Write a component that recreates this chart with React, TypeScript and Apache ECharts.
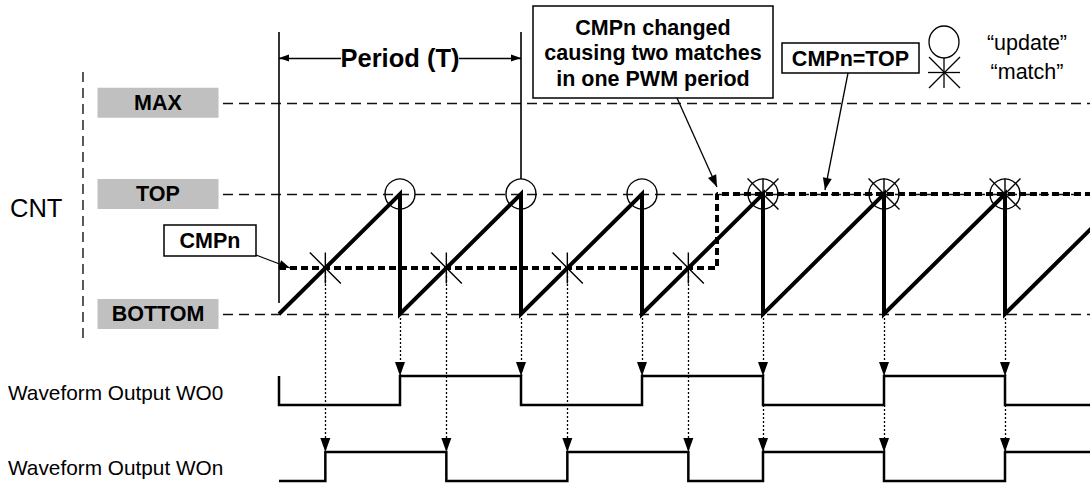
import React, { useEffect, useRef } from "react";
import * as echarts from "echarts";

// ---------------- data ----------------
const levelNames = ["MAX", "TOP", "BOTTOM"];
const levelValues = [1.76, 1, 0];
// counter (CNT) sawtooth, time in PWM periods, value relative to TOP
const cntTime = [0, 1, 1, 2, 2, 3, 3, 4, 4, 5, 5, 6, 6, 7];
const cntValue = [0, 1, 0, 1, 0, 1, 0, 1, 0, 1, 0, 1, 0, 1];
// compare register CMPn
const cmpTime = [0, 3.62, 3.62, 7];
const cmpValue = [0.383, 0.383, 1, 1];
// events
const updateTime = [1, 2, 3, 4, 5, 6];
const matchTime = [0.383, 1.383, 2.383, 3.383, 4, 5, 6];
const matchValue = [0.383, 0.383, 0.383, 0.383, 1, 1, 1];
// waveform outputs (logical 0/1)
const wo0Time = [0, 0, 1, 1, 2, 2, 3, 3, 4, 4, 5, 5, 6, 6, 7];
const wo0State = [1, 0, 0, 1, 1, 0, 0, 1, 1, 0, 0, 1, 1, 0, 0];
const wonTime = [0, 0.383, 0.383, 1.383, 1.383, 2.383, 2.383, 3.383, 3.383, 4, 4, 5, 5, 6, 6, 7];
const wonState = [0, 0, 1, 1, 0, 0, 1, 1, 0, 0, 1, 1, 0, 0, 1, 1];
const rowNames = ["Waveform Output WO0", "Waveform Output WOn"];
const axisTitle = "CNT";
const periodLabel = "Period (T)";
const noteChanged = "CMPn changed\ncausing two matches\nin one PWM period";
const noteTop = "CMPn=TOP";
const noteCmp = "CMPn";
const legendNames = ["\u201Cupdate\u201D", "\u201Cmatch\u201D"];

// ---------------- layout ----------------
const W = 1090;
const H = 485;
const X0 = 279;
const PX_T = 121;
const Y0 = 314;
const PX_V = 120;
const xMin = -X0 / PX_T;
const xMax = (W - X0) / PX_T;
const yMin = (Y0 - H) / PX_V;
const yMax = Y0 / PX_V;
const tx = (px: number) => (px - X0) / PX_T;
const vy = (py: number) => (Y0 - py) / PX_V;
const rowLow = [vy(405), vy(481)];
const rowAmp = 29 / PX_V;

const FONT = "'Liberation Sans', Arial, Helvetica, sans-serif";
const BLACK = "#000";

type Seg = { from: number[]; to: number[]; style: any; head?: number[] };

function headItem(s: Seg) {
  const dx = (s.to[0] - s.from[0]) * PX_T;
  const dy = -(s.to[1] - s.from[1]) * PX_V;
  const len = Math.hypot(dx, dy) || 1;
  const ux = dx / len;
  const uy = dy / len;
  const h = s.head![1];
  return {
    value: s.to,
    symbolSize: s.head,
    symbolRotate: (Math.atan2(-uy, ux) * 180) / Math.PI - 90,
    symbolOffset: [-ux * h / 2, -uy * h / 2],
  };
}

function buildOption() {
  const dotted = { color: BLACK, width: 1.3, type: [2, 2], opacity: 1 };
  const thin = { color: BLACK, width: 1.3, type: "solid", opacity: 1 };
  const dashed = { color: "#111", width: 1.3, type: [10, 6], opacity: 1 };
  const wo0High = rowLow[0] + rowAmp;
  const wo0Low = rowLow[0];
  const wonHigh = rowLow[1] + rowAmp;

  const segs: Seg[] = [];
  levelValues.forEach((v) => segs.push({ from: [tx(223), v], to: [xMax, v], style: dashed }));
  updateTime.forEach((t) =>
    segs.push({ from: [t, 0], to: [t, wo0High], style: dotted, head: [10, 14] })
  );
  matchTime.forEach((t, i) => {
    const start = updateTime.includes(t) ? wo0Low : matchValue[i];
    segs.push({ from: [t, start], to: [t, wonHigh], style: dotted, head: [10, 14] });
  });
  // period marker
  segs.push({ from: [0, vy(32)], to: [0, vy(303)], style: { ...thin, width: 1.6 } });
  segs.push({ from: [2, vy(32)], to: [2, 1 + 15 / PX_V], style: { ...thin, width: 1.6 } });
  segs.push({ from: [tx(341), vy(58)], to: [0, vy(58)], style: thin, head: [7, 10] });
  segs.push({ from: [tx(459), vy(58)], to: [2, vy(58)], style: thin, head: [7, 10] });
  // annotation arrows
  segs.push({ from: [tx(256), vy(255)], to: [tx(290), vy(268)], style: thin, head: [8, 11] });
  segs.push({ from: [tx(677), vy(98)], to: [tx(717), vy(187)], style: thin, head: [9, 12] });
  segs.push({ from: [tx(848), vy(73)], to: [tx(825), vy(190)], style: thin, head: [9, 12] });

  const label = (size: number, bold: boolean) => ({
    fontSize: size,
    fontFamily: FONT,
    fontWeight: bold ? "bold" : "normal",
    fill: BLACK,
  });
  const mid = { verticalAlign: "middle", textVerticalAlign: "middle" };
  const ctr = { align: "center", textAlign: "center", ...mid };

  return {
    animation: false,
    backgroundColor: "#fff",
    grid: { left: 0, right: 0, top: 0, bottom: 0 },
    xAxis: { type: "value", min: xMin, max: xMax, show: false },
    yAxis: { type: "value", min: yMin, max: yMax, show: false },
    series: [
      {
        type: "lines",
        coordinateSystem: "cartesian2d",
        silent: true,
        z: 2,
        lineStyle: { opacity: 1 },
        data: segs.map((s) => ({ coords: [s.from, s.to], lineStyle: s.style })),
      },
      {
        type: "scatter",
        silent: true,
        z: 5,
        symbol: "triangle",
        itemStyle: { color: BLACK, opacity: 1 },
        data: segs.filter((s) => s.head).map(headItem),
      },
      {
        type: "scatter",
        silent: true,
        z: 3,
        symbol: "rect",
        symbolSize: [121, 30],
        itemStyle: { color: "#c0c0c0", opacity: 1 },
        label: {
          show: true,
          position: "inside",
          formatter: "{b}",
          color: BLACK,
          fontSize: 21.5,
          fontWeight: "bold",
          fontFamily: FONT,
        },
        data: levelValues.map((v, i) => ({ name: levelNames[i], value: [-1, v] })),
      },
      {
        type: "line",
        silent: true,
        z: 3,
        symbol: "none",
        lineStyle: { color: BLACK, width: 4, type: [7, 4], opacity: 1 },
        data: cmpTime.map((t, i) => [t, cmpValue[i]]),
      },
      {
        type: "line",
        silent: true,
        z: 4,
        symbol: "none",
        lineStyle: { color: BLACK, width: 4, join: "miter", opacity: 1 },
        data: cntTime.map((t, i) => [t, cntValue[i]]),
      },
      {
        type: "line",
        silent: true,
        z: 4,
        symbol: "none",
        lineStyle: { color: BLACK, width: 2.5, join: "miter", opacity: 1 },
        data: wo0Time.map((t, i) => [t, rowLow[0] + wo0State[i] * rowAmp]),
      },
      {
        type: "line",
        silent: true,
        z: 4,
        symbol: "none",
        lineStyle: { color: BLACK, width: 2.5, join: "miter", opacity: 1 },
        data: wonTime.map((t, i) => [t, rowLow[1] + wonState[i] * rowAmp]),
      },
      {
        type: "scatter",
        silent: true,
        z: 6,
        symbol: "circle",
        symbolSize: 30,
        itemStyle: { color: "rgba(0,0,0,0)", borderColor: BLACK, borderWidth: 1.4, opacity: 1 },
        data: updateTime.map((t) => [t, 1]),
      },
      {
        type: "scatter",
        silent: true,
        z: 6,
        symbol: "path://M0 0L30 30M30 0L0 30M15 0L15 30",
        symbolSize: 31,
        itemStyle: { color: "rgba(0,0,0,0)", borderColor: BLACK, borderWidth: 1.4, opacity: 1 },
        data: matchTime.map((t, i) => [t, matchValue[i]]),
      },
    ],
    graphic: [
      {
        type: "line",
        silent: true,
        shape: { x1: 83, y1: 72, x2: 83, y2: 343 },
        style: { stroke: BLACK, lineWidth: 1.3, lineDash: [10, 6] },
      },
      {
        type: "text",
        silent: true,
        style: { text: axisTitle, x: 10, y: 208, ...label(25.5, false), ...mid },
      },
      ...rowNames.map((n, i) => ({
        type: "text",
        silent: true,
        style: { text: n, x: 8, y: i === 0 ? 392 : 467, ...label(20.8, false), ...mid },
      })),
      {
        type: "text",
        silent: true,
        style: { text: periodLabel, x: 400, y: 58, ...label(25.5, true), ...ctr },
      },
      {
        type: "rect",
        silent: true,
        shape: { x: 164, y: 225, width: 92, height: 31 },
        style: { fill: "#fff", stroke: BLACK, lineWidth: 1.5 },
      },
      {
        type: "text",
        silent: true,
        style: { text: noteCmp, x: 210, y: 241, ...label(21.5, true), ...ctr },
      },
      {
        type: "rect",
        silent: true,
        shape: { x: 533, y: 6, width: 240, height: 92 },
        style: { fill: "#fff", stroke: BLACK, lineWidth: 1.5 },
      },
      {
        type: "text",
        silent: true,
        style: { text: noteChanged, x: 653, y: 53, ...label(21.5, true), lineHeight: 25.5, ...ctr },
      },
      {
        type: "rect",
        silent: true,
        shape: { x: 782, y: 43, width: 137, height: 30 },
        style: { fill: "#fff", stroke: BLACK, lineWidth: 1.5 },
      },
      {
        type: "text",
        silent: true,
        style: { text: noteTop, x: 850.5, y: 58.5, ...label(21.5, true), ...ctr },
      },
      // legend symbols
      {
        type: "ellipse",
        silent: true,
        shape: { cx: 944, cy: 42, rx: 15, ry: 16 },
        style: { fill: "none", stroke: BLACK, lineWidth: 1.3 },
      },
      {
        type: "line",
        silent: true,
        shape: { x1: 944, y1: 58, x2: 944, y2: 88 },
        style: { stroke: BLACK, lineWidth: 1.3 },
      },
      {
        type: "line",
        silent: true,
        shape: { x1: 929, y1: 57, x2: 960, y2: 88 },
        style: { stroke: BLACK, lineWidth: 1.3 },
      },
      {
        type: "line",
        silent: true,
        shape: { x1: 960, y1: 57, x2: 929, y2: 88 },
        style: { stroke: BLACK, lineWidth: 1.3 },
      },
      {
        type: "line",
        silent: true,
        shape: { x1: 928, y1: 72.5, x2: 960, y2: 72.5 },
        style: { stroke: BLACK, lineWidth: 1.3 },
      },
      ...legendNames.map((n, i) => ({
        type: "text",
        silent: true,
        style: { text: n, x: 1027, y: i === 0 ? 43 : 72, ...label(21.5, false), ...ctr },
      })),
    ],
  };
}

export default function App() {
  const ref = useRef<HTMLDivElement>(null);
  useEffect(() => {
    document.body.style.margin = "0";
    const chart = echarts.init(ref.current!, null, { renderer: "svg" });
    chart.setOption(buildOption() as any);
    return () => chart.dispose();
  }, []);
  return <div ref={ref} style={{ width: W, height: H, background: "#fff" }} />;
}
